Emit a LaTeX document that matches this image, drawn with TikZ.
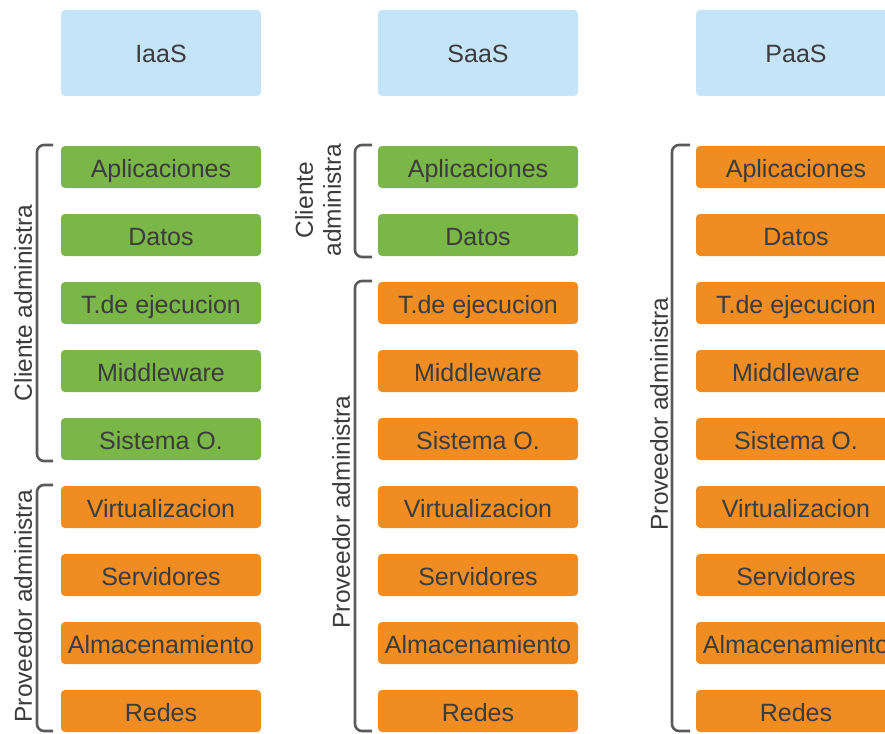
\documentclass[tikz,border=0pt]{standalone}
\usepackage{fontspec}
\setmainfont{Liberation Sans}
\definecolor{txt}{HTML}{3C3C3C}
\definecolor{grn}{HTML}{7AB648}
\definecolor{org}{HTML}{EF8D22}
\definecolor{hdr}{HTML}{C5E4F7}
\definecolor{brk}{HTML}{5A5A5A}
\begin{document}
\begin{tikzpicture}[x=1pt,y=-1pt,
  box/.style={rectangle,rounded corners=4pt,minimum width=200pt,minimum height=42pt,inner sep=0pt,text=txt,text height=20pt,text depth=0pt,font=\fontsize{25}{29}\selectfont},
  gbox/.style={box,fill=grn},
  obox/.style={box,fill=org},
  hbox/.style={box,fill=hdr,minimum height=86pt},
  brack/.style={draw=brk,line width=2.6pt,rounded corners=7pt},
  lab/.style={rotate=90,text=txt,font=\fontsize{24.5}{28}\selectfont,inner sep=0pt,align=center}]
\useasboundingbox (0,0) rectangle (885,733);
\clip (0,0) rectangle (885,733);
% headers
\node[hbox] (h1) at (161,53) {IaaS};
\node[hbox] (h2) at (478,53) {SaaS};
\node[hbox] (h3) at (796,53) {PaaS};
% column 1
\node[gbox] (a1) at (161,167) {Aplicaciones};
\node[gbox] (b1) at (161,235) {Datos};
\node[gbox] (c1) at (161,303) {T.de ejecucion};
\node[gbox] (d1) at (161,371) {Middleware};
\node[gbox] (e1) at (161,439) {Sistema O.};
\node[obox] (f1) at (161,507) {Virtualizacion};
\node[obox] (g1) at (161,575) {Servidores};
\node[obox] (i1) at (161,643) {Almacenamiento};
\node[obox] (j1) at (161,711) {Redes};
% column 2
\node[gbox] (a2) at (478,167) {Aplicaciones};
\node[gbox] (b2) at (478,235) {Datos};
\node[obox] (c2) at (478,303) {T.de ejecucion};
\node[obox] (d2) at (478,371) {Middleware};
\node[obox] (e2) at (478,439) {Sistema O.};
\node[obox] (f2) at (478,507) {Virtualizacion};
\node[obox] (g2) at (478,575) {Servidores};
\node[obox] (i2) at (478,643) {Almacenamiento};
\node[obox] (j2) at (478,711) {Redes};
% column 3
\node[obox] (a3) at (796,167) {Aplicaciones};
\node[obox] (b3) at (796,235) {Datos};
\node[obox] (c3) at (796,303) {T.de ejecucion};
\node[obox] (d3) at (796,371) {Middleware};
\node[obox] (e3) at (796,439) {Sistema O.};
\node[obox] (f3) at (796,507) {Virtualizacion};
\node[obox] (g3) at (796,575) {Servidores};
\node[obox] (i3) at (796,643) {Almacenamiento};
\node[obox] (j3) at (796,711) {Redes};
% brackets
\draw[brack] (53,145) -- (37,145) -- (37,461) -- (53,461);
\draw[brack] (53,485) -- (37,485) -- (37,731) -- (53,731);
\draw[brack] (372,145) -- (355,145) -- (355,257) -- (372,257);
\draw[brack] (372,281) -- (355,281) -- (355,731) -- (372,731);
\draw[brack] (690,145) -- (672,145) -- (672,731) -- (690,731);
% labels
\node[lab] (l1) at (23,303) {Cliente administra};
\node[lab] (l2) at (23,606) {Proveedor administra};
\node[lab] (l3) at (318,200) {Cliente\\administra};
\node[lab] (l4) at (341,512) {Proveedor administra};
\node[lab] (l5) at (659,414) {Proveedor administra};
\end{tikzpicture}
\end{document}
